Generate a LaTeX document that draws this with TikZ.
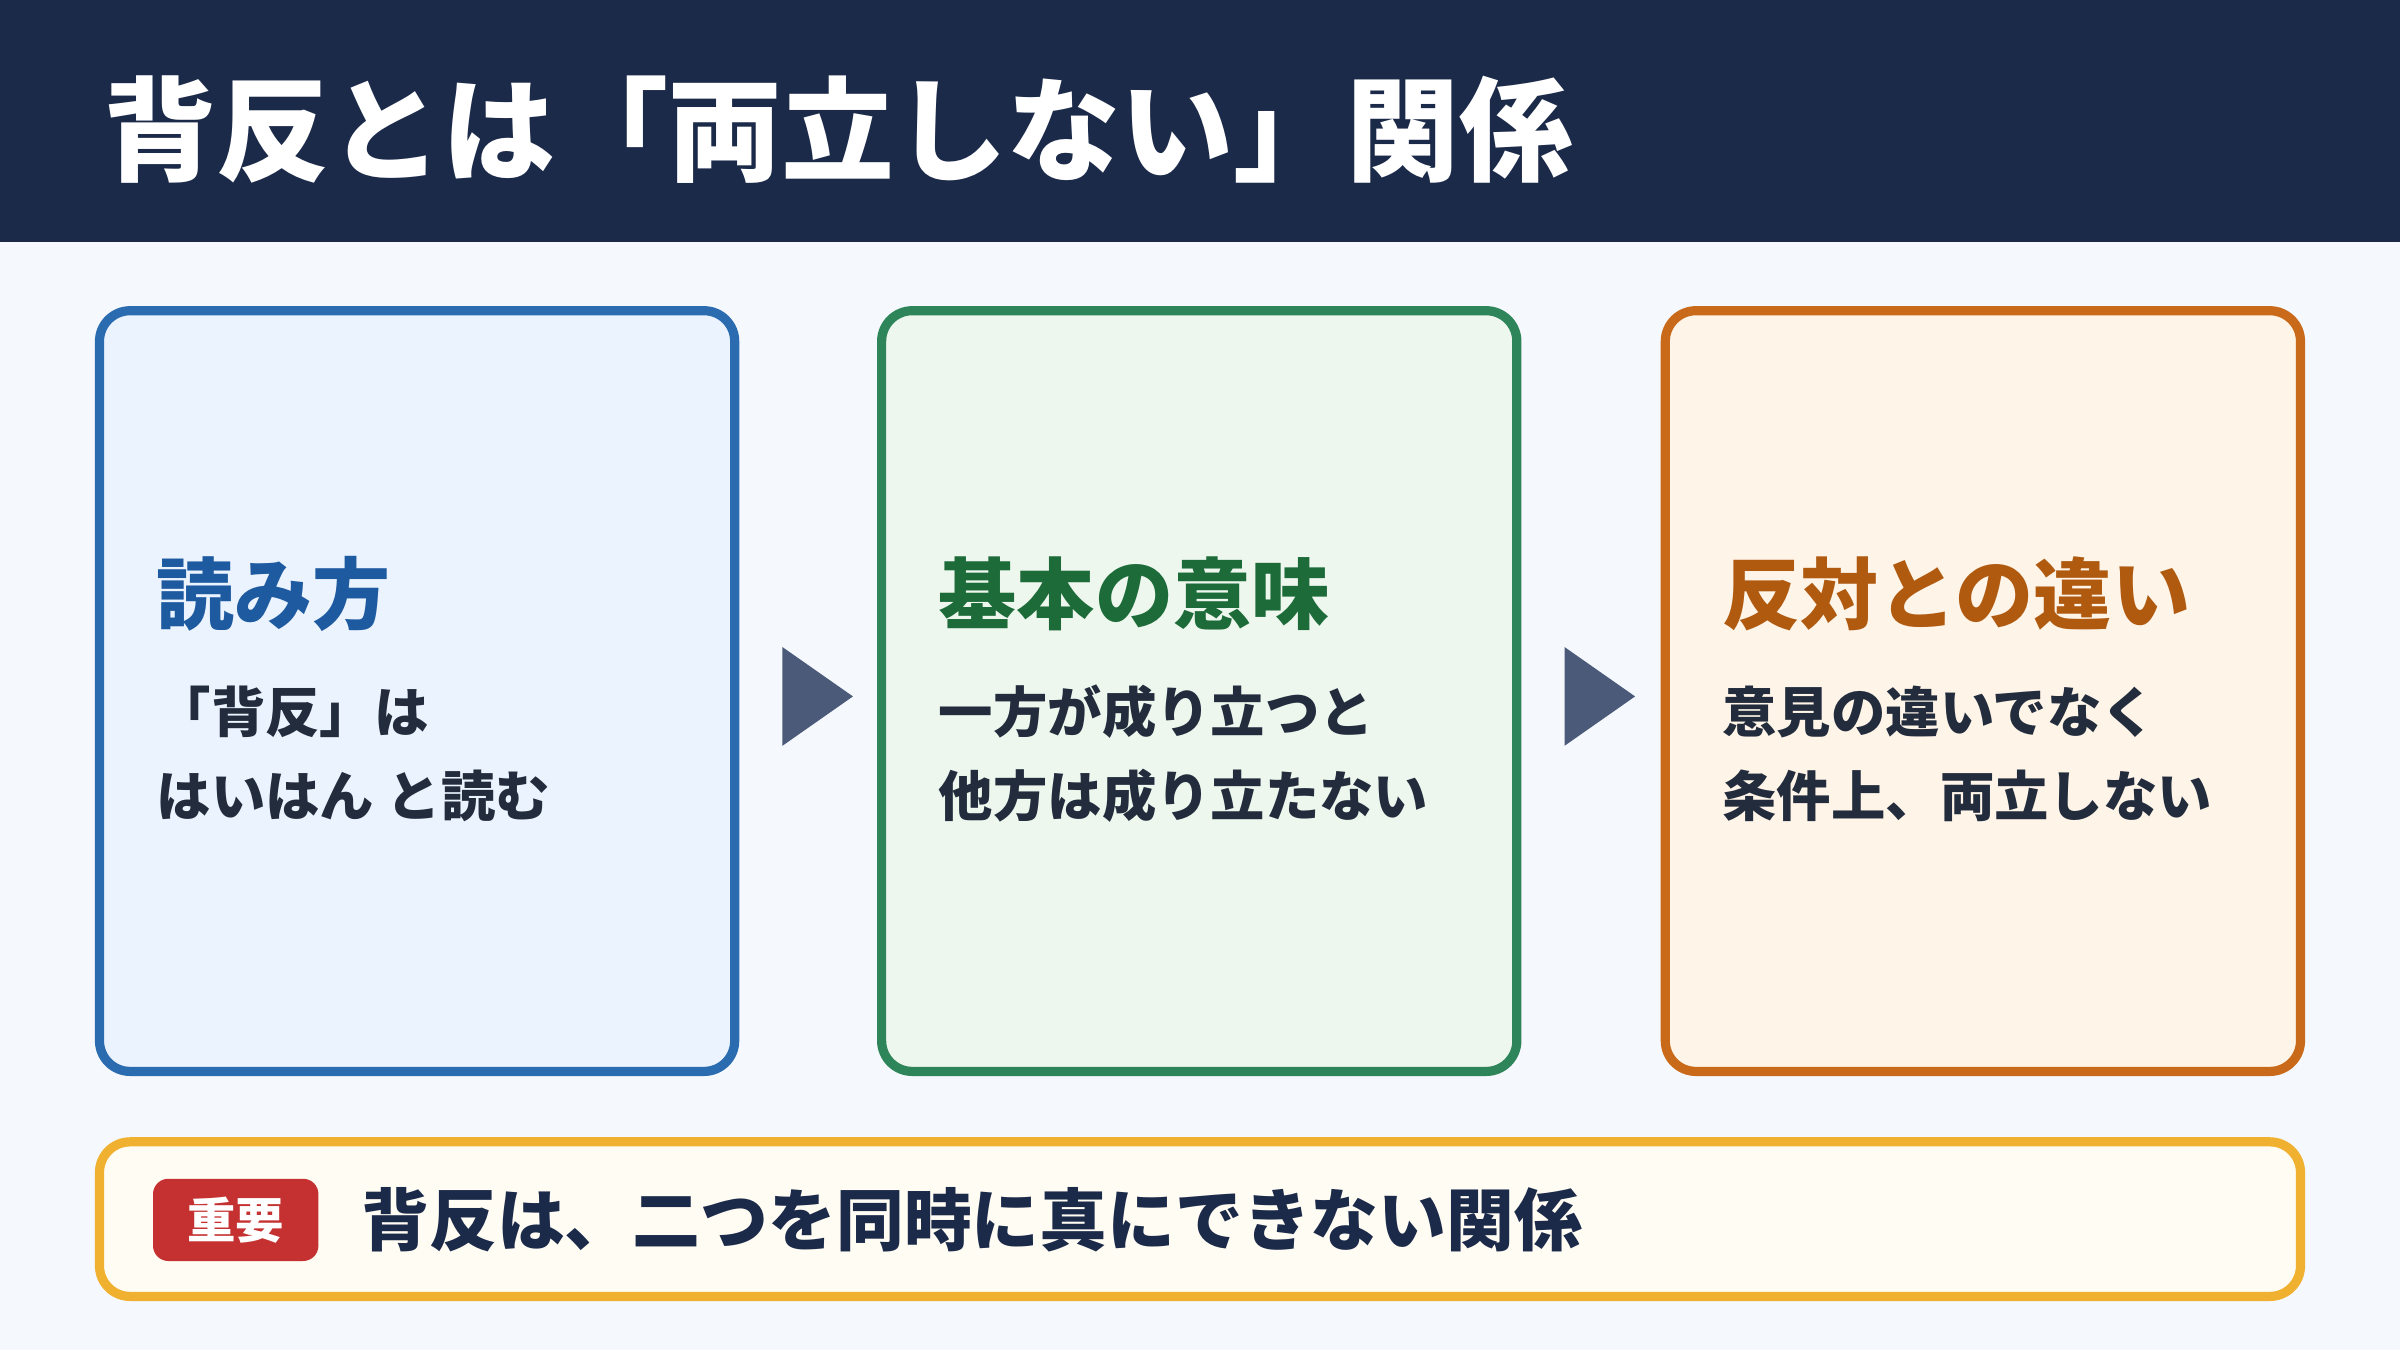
\documentclass[tikz,border=0pt]{standalone}
\usepackage{fontspec}
\setmainfont{Noto Sans CJK JP}
\usetikzlibrary{positioning,shapes.geometric}
\definecolor{navy}{HTML}{1C2A4A}
\definecolor{pagebg}{HTML}{F5F8FC}
\definecolor{bluebd}{HTML}{2B6CB0}
\definecolor{bluefl}{HTML}{EBF3FE}
\definecolor{bluetx}{HTML}{1E5AA0}
\definecolor{greenbd}{HTML}{2F855A}
\definecolor{greenfl}{HTML}{EDF7EE}
\definecolor{greentx}{HTML}{1E6B3A}
\definecolor{orangebd}{HTML}{C96A1A}
\definecolor{orangefl}{HTML}{FEF4E8}
\definecolor{orangetx}{HTML}{B05A10}
\definecolor{goldbd}{HTML}{F0B030}
\definecolor{goldfl}{HTML}{FFFCF3}
\definecolor{badge}{HTML}{C53030}
\definecolor{bodytx}{HTML}{222C3C}
\definecolor{arrowc}{HTML}{4A5A78}
\tikzset{
  card/.style={draw=#1bd, fill=#1fl, line width=0.6mm, rounded corners=2mm},
  head/.style={anchor=west, font=\fontsize{14.5}{16}\selectfont\bfseries, text=#1tx},
  body/.style={anchor=west, font=\fontsize{10.1}{12}\selectfont\bfseries, text=bodytx},
  stepmark/.style={isosceles triangle, isosceles triangle apex angle=70, fill=arrowc,
    minimum height=4.6mm, minimum width=5.4mm, inner sep=0pt, anchor=center}
}
\begin{document}
\begin{tikzpicture}[x=0.01cm, y=-0.01cm]
    \useasboundingbox (0,0) rectangle (1568,882);
    % page and header band
    \fill[pagebg] (0,0) rectangle (1568,882);
    \fill[navy] (0,0) rectangle (1568,158);
    \node[anchor=west, text=white, font=\fontsize{21}{24}\selectfont\bfseries] (title) at (55,85) {背反とは「両立しない」関係};

    % three cards
    \draw[card=blue] (65,203) rectangle (480,700);
    \draw[card=green] (576,203) rectangle (991,700);
    \draw[card=orange] (1088,203) rectangle (1503,700);

    \node[head=blue] (read) at (90,388) {読み方};
    \node[body] (read1) at (90,465) {「背反」は};
    \node[body] (read2) at (90,520) {はいはん と読む};

    \node[head=green] (mean) at (601,388) {基本の意味};
    \node[body] (mean1) at (601,465) {一方が成り立つと};
    \node[body] (mean2) at (601,520) {他方は成り立たない};

    \node[head=orange] (diff) at (1113,388) {反対との違い};
    \node[body] (diff1) at (1113,465) {意見の違いでなく};
    \node[body] (diff2) at (1113,520) {条件上、両立しない};

    % step markers
    \node[stepmark] (stepa) at (528,455) {};
    \node[stepmark] (stepb) at (1039,455) {};

    % key point
    \draw[card=gold] (65,746) rectangle (1503,847);
    \node[fill=badge, rounded corners=1mm, text=white, minimum width=10.8mm, minimum height=5mm,
      font=\fontsize{9}{10}\selectfont\bfseries] (tag) at (154,797) {重要};
    \node[text=navy, font=\fontsize{12.6}{15}\selectfont\bfseries, right=1.5mm of tag.east, anchor=west] (key) {背反は、二つを同時に真にできない関係};
\end{tikzpicture}
\end{document}
